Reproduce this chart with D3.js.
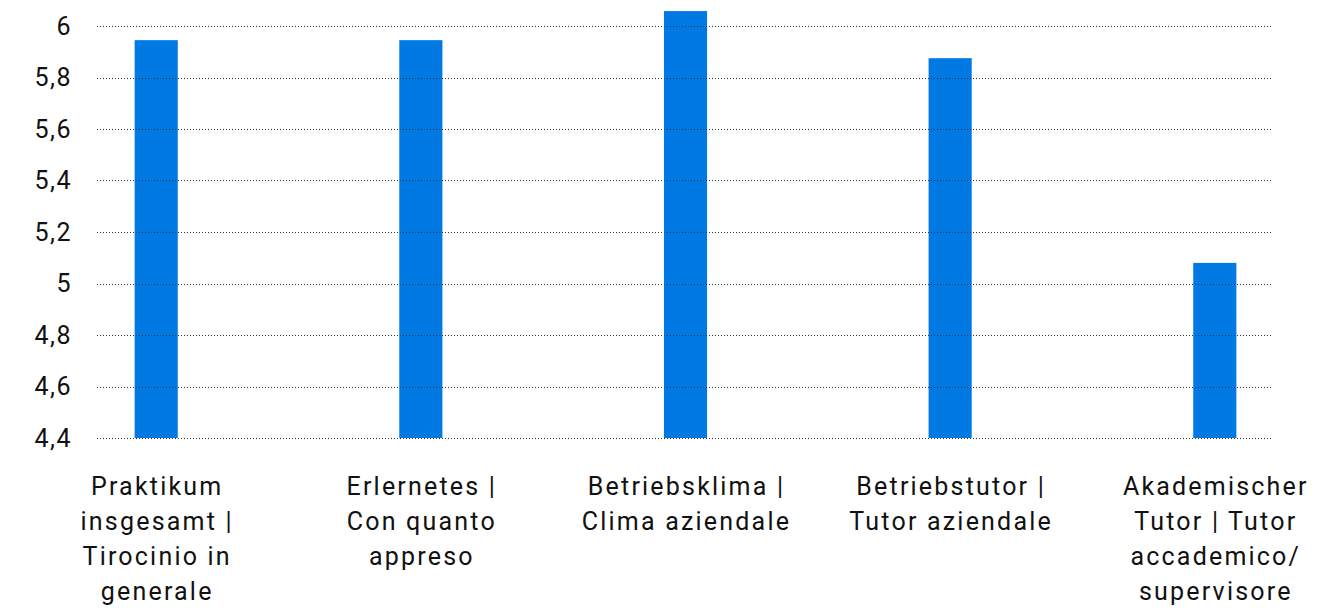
<!DOCTYPE html>
<html>
<head>
<meta charset="utf-8">
<script src="https://cdn.jsdelivr.net/npm/d3@7"></script>
<style>
  body { margin: 0; background: #fff; }
  text { font-family: Roboto, "DejaVu Sans", sans-serif; fill: #111; }
</style>
</head>
<body>
<svg id="chart"></svg>
<script>
// categories (one array of lines per label) and values
const categories = [
  ["Praktikum", "insgesamt |", "Tirocinio in", "generale"],
  ["Erlernetes |", "Con quanto", "appreso"],
  ["Betriebsklima |", "Clima aziendale"],
  ["Betriebstutor |", "Tutor aziendale"],
  ["Akademischer", "Tutor | Tutor", "accademico/", "supervisore"]
];
const values = [5.945, 5.945, 6.058, 5.875, 5.08];
const yTicks = [4.4, 4.6, 4.8, 5, 5.2, 5.4, 5.6, 5.8, 6];

const W = 1340, H = 608;
const svg = d3.select("#chart").attr("width", W).attr("height", H);

const x = d3.scaleBand().domain(d3.range(categories.length)).range([24, 1347]).paddingInner(0.837).paddingOuter(0.418);
const y = d3.scaleLinear().domain([4.4, 6]).range([438, 26]);

const gridLeft = 97, gridRight = 1272;

// bars
svg.selectAll(".bar")
   .data(values)
   .enter().append("rect")
   .attr("class", "bar")
   .attr("x", (d, i) => x(i))
   .attr("width", x.bandwidth())
   .attr("y", d => y(d))
   .attr("height", d => y(4.4) - y(d))
   .attr("fill", "#007ae2");

// gridlines drawn on top of bars
svg.selectAll(".grid")
   .data(yTicks)
   .enter().append("line")
   .attr("class", "grid")
   .attr("x1", gridLeft).attr("x2", gridRight)
   .attr("y1", d => Math.round(y(d)) + 0.5)
   .attr("y2", d => Math.round(y(d)) + 0.5)
   .attr("stroke", "#333")
   .attr("stroke-width", 1)
   .attr("stroke-dasharray", "1,2");

// y axis labels
const fmt = d => String(d).replace(".", ",");
svg.selectAll(".ytick")
   .data(yTicks)
   .enter().append("text")
   .attr("class", "ytick")
   .attr("x", 72)
   .attr("y", d => y(d))
   .attr("dy", "0.35em")
   .attr("text-anchor", "end")
   .style("font-size", "25px")
   .style("letter-spacing", "1.5px")
   .text(fmt);

// category labels
const lbl = svg.selectAll(".xlabel")
   .data(categories)
   .enter().append("text")
   .attr("class", "xlabel")
   .attr("text-anchor", "middle")
   .style("font-size", "25px")
   .style("letter-spacing", "2.2px");
lbl.each(function(lines, i) {
  d3.select(this).selectAll("tspan")
    .data(lines)
    .enter().append("tspan")
    .attr("x", x(i) + x.bandwidth() / 2 + 1)
    .attr("y", (d, j) => 495 + j * 35)
    .text(d => d);
});
</script>
</body>
</html>
